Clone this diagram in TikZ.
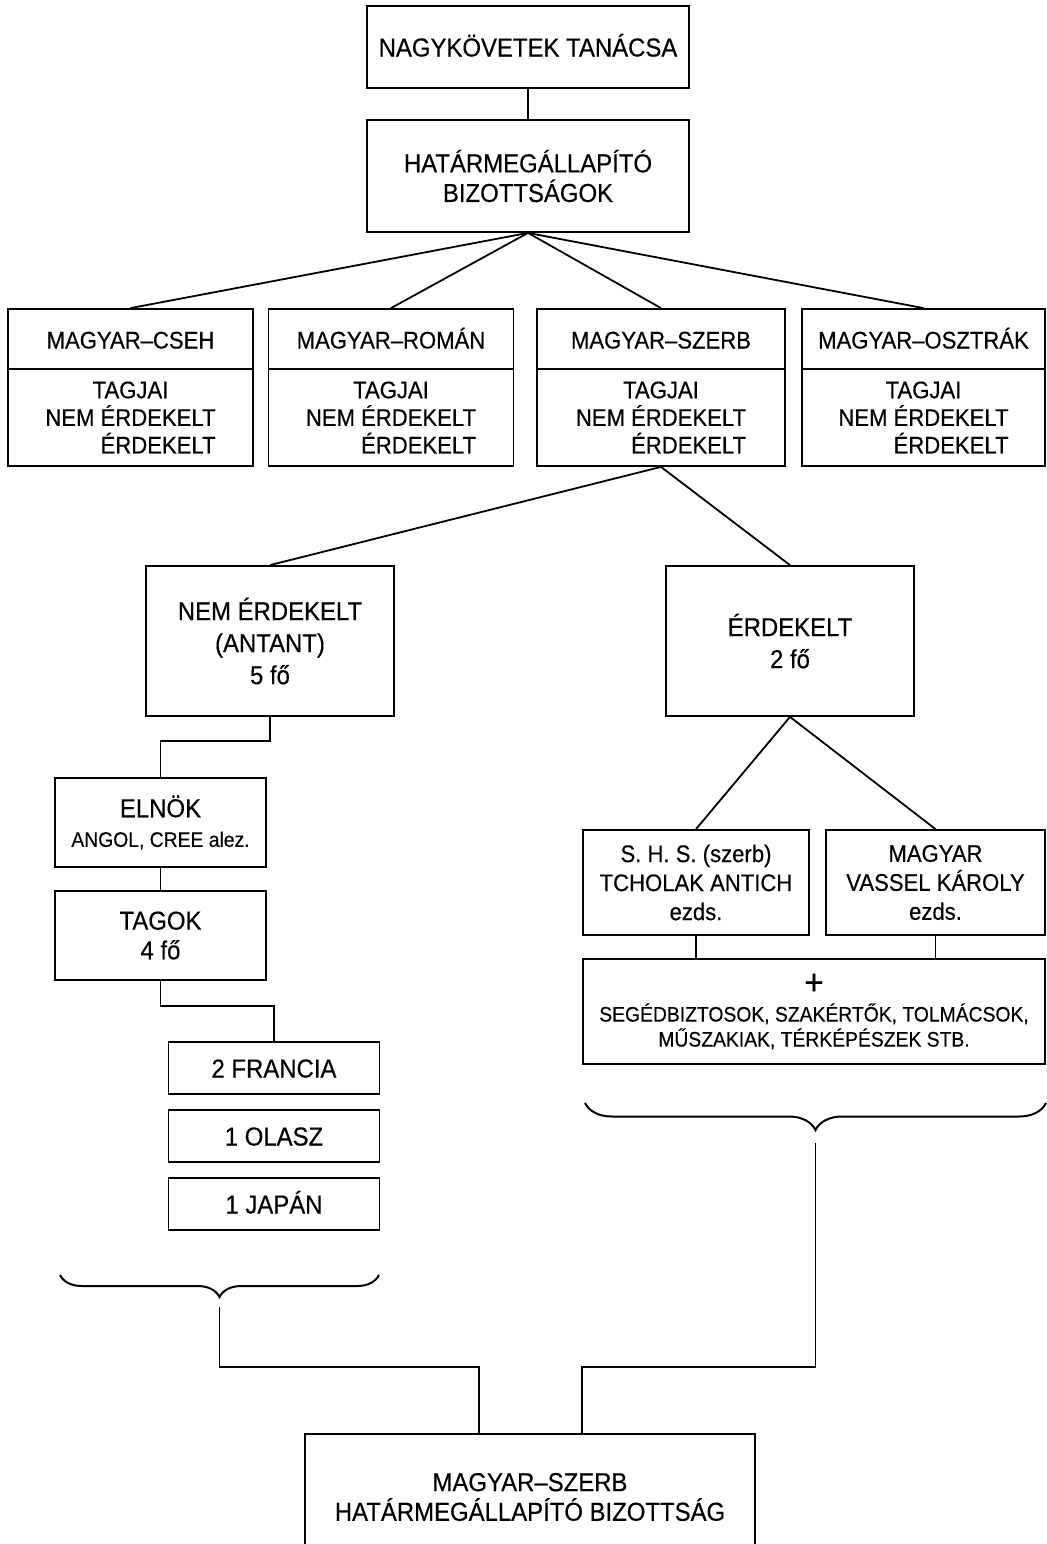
\documentclass[tikz,border=0pt]{standalone}
\usepackage{fontspec}
\setmainfont[FakeStretch=0.92, FakeBold=0.4]{Liberation Sans}
\usepackage{tikz}
\usetikzlibrary{decorations.pathreplacing}

\newcommand{\tagjaitext}{TAGJAI\\NEM ÉRDEKELT\\\hphantom{NEM }ÉRDEKELT}

\tikzset{
  box/.style={draw=black, line width=0.9pt, align=center, inner sep=1pt,
    font=\fontsize{13}{14.8}\selectfont},
  head/.style={box, text height=9.5pt, text depth=0pt},
  small/.style={font=\fontsize{12}{14.5}\selectfont},
  members/.style={box, font=\fontsize{12}{13.8}\selectfont},
  wire/.style={draw=black, line width=0.9pt},
  bracket/.style={draw=black, line width=1pt, decorate,
    decoration={brace, amplitude=#1}},
}

\begin{document}
\begin{tikzpicture}[x=0.5pt, y=-0.5pt]

      \useasboundingbox (0,0) rectangle (1047,1544);

      % council and the boundary commissions
      \node[head, minimum width=161pt, minimum height=41pt] (nagy) at (528,47) {NAGYKÖVETEK TANÁCSA};
      \node[box, minimum width=161pt, minimum height=56pt] (hatar) at (528,176) {HATÁRMEGÁLLAPÍTÓ\\BIZOTTSÁGOK};
      \draw[wire] (nagy.south) -- (hatar.north);

      % the four commissions
      \node[head, small, minimum width=122.5pt, minimum height=30pt] (cseh) at (130.5,339) {MAGYAR–CSEH};
      \node[members, minimum width=122.5pt, minimum height=48.5pt] (csehT) at (130.5,417.5) {\tagjaitext};
      \node[head, small, minimum width=122.5pt, minimum height=30pt] (roman) at (391,339) {MAGYAR–ROMÁN};
      \node[members, minimum width=122.5pt, minimum height=48.5pt] (romanT) at (391,417.5) {\tagjaitext};
      \node[head, small, minimum width=124pt, minimum height=30pt] (szerb) at (661,339) {MAGYAR–SZERB};
      \node[members, minimum width=124pt, minimum height=48.5pt] (szerbT) at (661,417.5) {\tagjaitext};
      \node[head, small, minimum width=121.5pt, minimum height=30pt] (osztrak) at (923.5,339) {MAGYAR–OSZTRÁK};
      \node[members, minimum width=121.5pt, minimum height=48.5pt] (osztrakT) at (923.5,417.5) {\tagjaitext};
      \draw[wire] (hatar.south) -- (cseh.north);
      \draw[wire] (hatar.south) -- (roman.north);
      \draw[wire] (hatar.south) -- (szerb.north);
      \draw[wire] (hatar.south) -- (osztrak.north);

      % members of the serbian commission
      \node[box, minimum width=124pt, minimum height=75pt, font=\fontsize{13}{16}\selectfont] (nemerd) at (270,641) {NEM ÉRDEKELT\\(ANTANT)\\5 fő};
      \node[box, minimum width=124pt, minimum height=75pt, font=\fontsize{13}{16}\selectfont] (erd) at (790,641) {ÉRDEKELT\\2 fő};
      \draw[wire] (szerbT.south) -- (nemerd.north);
      \draw[wire] (szerbT.south) -- (erd.north);

      % entente side
      \node[box, minimum width=105.5pt, minimum height=44.5pt] (elnok) at (160.5,822.5) {ELNÖK\\{\fontsize{10.5}{12}\selectfont ANGOL, CREE alez.}};
      \node[box, minimum width=105.5pt, minimum height=44.5pt] (tagok) at (160.5,935.5) {TAGOK\\4 fő};
      \node[head, minimum width=105.5pt, minimum height=26pt] (francia) at (274,1068) {2 FRANCIA};
      \node[head, minimum width=105.5pt, minimum height=26pt] (olasz) at (274,1136) {1 OLASZ};
      \node[head, minimum width=105.5pt, minimum height=26pt] (japan) at (274,1204) {1 JAPÁN};
      \draw[wire] (nemerd.south) -- ++(0,24) -| (elnok.north);
      \draw[wire] (elnok.south) -- (tagok.north);
      \draw[wire] (tagok.south) -- (tagok.south |- 0,1006) -| (francia.north);

      % interested side
      \node[box, small, minimum width=113pt, minimum height=52.5pt] (shs) at (696,882.5) {S. H. S. (szerb)\\TCHOLAK ANTICH\\ezds.};
      \node[box, small, minimum width=109.5pt, minimum height=52.5pt] (magyar) at (935.5,882.5) {MAGYAR\\VASSEL KÁROLY\\ezds.};
      \node[box, minimum width=231pt, minimum height=52.5pt, font=\fontsize{10.5}{12.5}\selectfont] (seged) at (814,1011.5)
        {{\fontsize{18}{18}\selectfont +}\\[1pt]SEGÉDBIZTOSOK, SZAKÉRTŐK, TOLMÁCSOK,\\MŰSZAKIAK, TÉRKÉPÉSZEK STB.};
      \draw[wire] (erd.south) -- (shs.north);
      \draw[wire] (erd.south) -- (magyar.north);
      \draw[wire] (shs.south) -- (shs.south |- seged.north);
      \draw[wire] (magyar.south) -- (magyar.south |- seged.north);

      % braces
      \draw[bracket=11pt] (379,1275) -- (60,1275);
      \draw[bracket=13.5pt] (1046,1103) -- (585,1103);
      \coordinate (lbrace) at (219.5,1307);
      \coordinate (rbrace) at (815.5,1143);

      % the resulting commission
      \node[box, minimum width=225pt, minimum height=63pt] (vegso) at (530,1497) {MAGYAR–SZERB\\HATÁRMEGÁLLAPÍTÓ BIZOTTSÁG};
      \coordinate (vegsoL) at ([xshift=-25.5pt]vegso.north);
      \coordinate (vegsoR) at ([xshift=26pt]vegso.north);
      \draw[wire] (lbrace) -- (lbrace |- 0,1367) -| (vegsoL);
      \draw[wire] (rbrace) -- (rbrace |- 0,1367) -| (vegsoR);

    \end{tikzpicture}
\end{document}
